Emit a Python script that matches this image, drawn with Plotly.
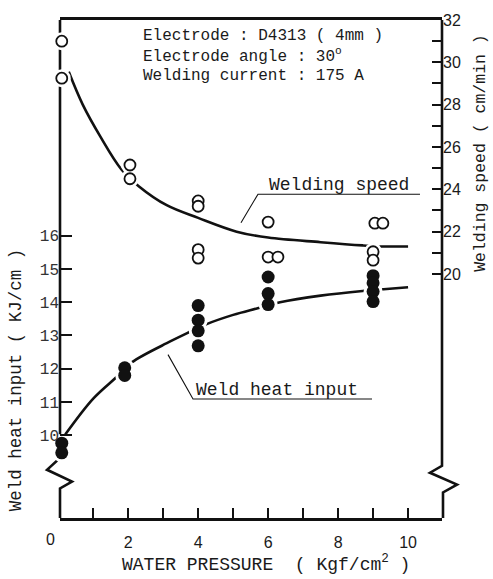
import plotly.graph_objects as go

# ---- measured data -------------------------------------------------------
# Welding speed (cm/min), open circles, right axis
speed_x = [0.1, 0.1, 2.05, 2.05, 4.0, 4.0, 4.0, 4.0, 6.0, 6.0, 6.28, 9.05, 9.28, 9.0, 9.0]
speed_y = [31.0, 29.25, 25.15, 24.5, 23.45, 23.2, 21.15, 20.75, 22.45, 20.8, 20.8, 22.4, 22.4, 21.05, 20.65]

# Weld heat input (kJ/cm), filled circles, left axis
heat_x = [0.1, 0.1, 1.9, 1.9, 4.0, 4.0, 4.0, 4.0, 6.0, 6.0, 6.0, 9.0, 9.0, 9.0, 9.0]
heat_y = [9.76, 9.47, 12.03, 11.8, 13.9, 13.46, 13.14, 12.69, 14.76, 14.26, 13.93, 14.8, 14.58, 14.32, 14.02]

# Trend curves drawn through the data
speed_fit_x = [0.3, 0.7, 1.2, 1.8, 2.3, 3.1, 4.0, 5.1, 6.0, 7.5, 8.7, 9.3, 10.0]
speed_fit_y = [29.55, 28.0, 26.5, 24.95, 24.15, 23.25, 22.65, 22.0, 21.72, 21.5, 21.35, 21.3, 21.3]
heat_fit_x = [0.2, 1.0, 1.7, 2.1, 3.2, 3.7, 4.26, 5.0, 5.7, 6.34, 7.5, 8.7, 9.3, 10.0]
heat_fit_y = [10.02, 11.1, 11.78, 12.19, 12.82, 13.08, 13.35, 13.62, 13.82, 14.0, 14.2, 14.34, 14.39, 14.45]

# Tick definitions (labelled ticks, plus unlabelled minor ticks)
x_ticks = [2, 4, 6, 8, 10]
x_minor_ticks = [1, 3, 5, 7, 9]
heat_ticks = [10, 11, 12, 13, 14, 15, 16]
speed_ticks = [20, 22, 24, 26, 28, 30, 32]
speed_minor_ticks = [21, 23, 25, 27, 29, 31]

# ---- page geometry -------------------------------------------------------
W, H = 493, 579
L, R, T, B = 60, 442, 12, 518          # plot-area edges in pixels
INK = "#111111"
TXT = "#1a1a1a"
MONO = "Liberation Mono, DejaVu Sans Mono, monospace"
SANS = "Liberation Sans, Arial, sans-serif"


def px(x):
    return (x - L) / (R - L)


def py(y):
    return (B - y) / (B - T)


def path(points):
    return "M " + " L ".join(f"{px(a):.4f},{py(b):.4f}" for a, b in points)


fig = go.Figure()

# trend curves
fig.add_trace(go.Scatter(x=heat_fit_x, y=heat_fit_y, mode="lines",
                         line=dict(color=INK, width=2.6, shape="spline"),
                         yaxis="y", hoverinfo="skip"))
fig.add_trace(go.Scatter(x=speed_fit_x, y=speed_fit_y, mode="lines",
                         line=dict(color=INK, width=2.6, shape="spline"),
                         yaxis="y2", hoverinfo="skip"))

# white halos so the curves break around the symbols
fig.add_trace(go.Scatter(x=heat_x, y=heat_y, mode="markers", yaxis="y",
                         marker=dict(size=19, color="white"), cliponaxis=False,
                         hoverinfo="skip"))
fig.add_trace(go.Scatter(x=speed_x, y=speed_y, mode="markers", yaxis="y2",
                         marker=dict(size=18, color="white"), cliponaxis=False,
                         hoverinfo="skip"))

# data symbols
fig.add_trace(go.Scatter(x=heat_x, y=heat_y, mode="markers", yaxis="y",
                         name="Weld heat input",
                         marker=dict(size=13, color=INK, line=dict(width=0)),
                         cliponaxis=False))
fig.add_trace(go.Scatter(x=speed_x, y=speed_y, mode="markers", yaxis="y2",
                         name="Welding speed",
                         marker=dict(size=11, color="white", line=dict(color=INK, width=1.8)),
                         cliponaxis=False))

shapes = [
    # left axis with break mark
    dict(type="path", xref="paper", yref="paper", layer="below",
         path=path([(L, T), (L, 457), (47, 469), (72, 481), (L, 488), (L, B)]),
         line=dict(color=INK, width=2.6)),
    # right axis with break mark
    dict(type="path", xref="paper", yref="paper", layer="below",
         path=path([(R, T), (R, 465), (430, 472), (457, 484), (443, 492), (443, B)]),
         line=dict(color=INK, width=2.6)),
    # "Welding speed" underline and leader
    dict(type="path", xref="paper", yref="paper",
         path=path([(420, 189), (258, 189), (241, 218)]),
         line=dict(color=INK, width=1.1)),
    # "Weld heat input" underline and leader
    dict(type="path", xref="paper", yref="paper",
         path=path([(372, 397), (193, 397), (168, 352)]),
         line=dict(color=INK, width=1.1)),
]

annotations = [
    dict(text="Electrode : D4313 ( 4mm )", x=px(142), y=py(28), size=16),
    dict(text="Electrode angle : 30<sup>o</sup>", x=px(142), y=py(48), size=16),
    dict(text="Welding current : 175 A", x=px(142), y=py(69), size=16),
    dict(text="Welding speed", x=px(268), y=py(180), size=18),
    dict(text="Weld heat input", x=px(195), y=py(388), size=18),
]
for a in annotations:
    size = a.pop("size")
    a.update(xref="paper", yref="paper", xanchor="left", yanchor="middle",
             showarrow=False, borderpad=0,
             font=dict(family=MONO, size=size, color=TXT))

annotations += [
    dict(text="Weld heat input ( KJ/cm )", x=px(16), y=py(378), textangle=-90,
         xref="paper", yref="paper", xanchor="center", yanchor="middle",
         showarrow=False, font=dict(family=MONO, size=17.5, color=TXT)),
    dict(text="Welding speed ( cm/min )", x=px(481), y=py(147), textangle=-90,
         xref="paper", yref="paper", xanchor="center", yanchor="middle",
         showarrow=False, font=dict(family=MONO, size=16.5, color=TXT)),
    dict(text="WATER PRESSURE  ( Kgf/cm<sup>2</sup> )", x=px(266), y=py(564),
         xref="paper", yref="paper", xanchor="center", yanchor="middle",
         showarrow=False, font=dict(family=MONO, size=18, color=TXT)),
    dict(text="0", x=px(50), y=py(540),
         xref="paper", yref="paper", xanchor="center", yanchor="middle",
         showarrow=False, font=dict(family=SANS, size=16, color=TXT)),
]

fig.update_layout(
    width=W, height=H,
    margin=dict(l=L, r=W - R, t=T, b=H - B),
    paper_bgcolor="white", plot_bgcolor="white",
    showlegend=False,
    xaxis=dict(range=[0.05, 10.97], showline=True, mirror=True,
               linecolor=INK, linewidth=2.6,
               ticks="inside", ticklen=10, tickwidth=2, tickcolor=INK,
               tickmode="array", tickvals=x_ticks, ticklabelstandoff=8,
               minor=dict(tickmode="array", tickvals=x_minor_ticks, ticks="inside",
                          ticklen=10, tickwidth=2, tickcolor=INK, showgrid=False),
               tickfont=dict(family=SANS, size=16, color=TXT),
               showgrid=False, zeroline=False),
    yaxis=dict(range=[7.51, 22.49], showline=False,
               ticks="inside", ticklen=12, tickwidth=2, tickcolor=INK,
               tickmode="array", tickvals=heat_ticks,
               tickfont=dict(family=MONO, size=16, color="#333333"),
               showgrid=False, zeroline=False),
    yaxis2=dict(range=[8.47, 32.0], overlaying="y", side="right", showline=False,
                ticks="inside", ticklen=10, tickwidth=2, tickcolor=INK,
                tickmode="array", tickvals=speed_ticks,
                minor=dict(tickmode="array", tickvals=speed_minor_ticks, ticks="inside",
                           ticklen=10, tickwidth=2, tickcolor=INK, showgrid=False),
                tickfont=dict(family=SANS, size=16, color=TXT),
                showgrid=False, zeroline=False),
    shapes=shapes,
    annotations=annotations,
)

fig.write_html("out.html")
